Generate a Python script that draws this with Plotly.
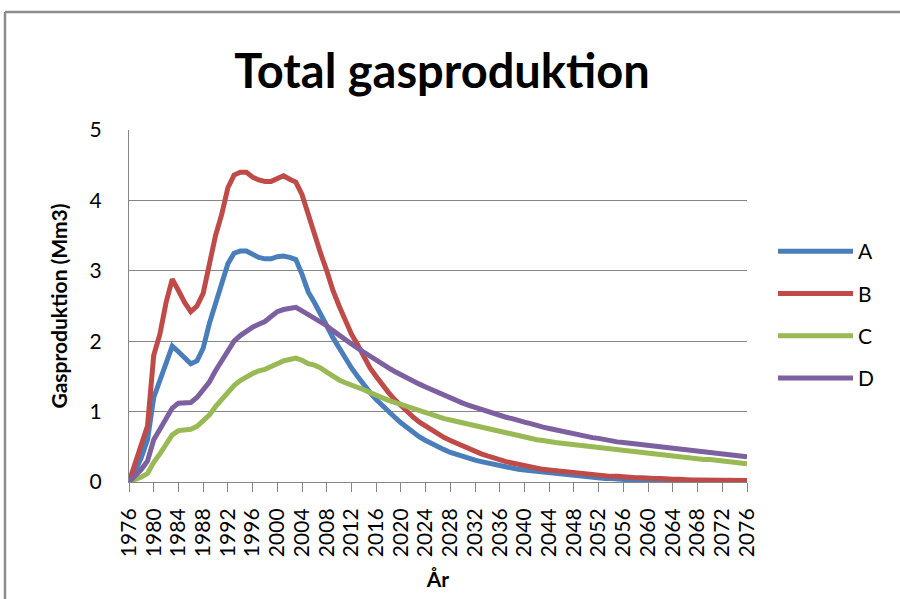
import plotly.graph_objects as go

years = list(range(1976, 2077))

series_a = [
    0.00, 0.15, 0.35, 0.60, 1.20, 1.45, 1.70, 1.93, 1.85, 1.76,
    1.68, 1.72, 1.90, 2.25, 2.55, 2.80, 3.10, 3.25, 3.28, 3.28,
    3.24, 3.19, 3.17, 3.17, 3.20, 3.21, 3.19, 3.16, 2.95, 2.70,
    2.55, 2.40, 2.22, 2.05, 1.90, 1.75, 1.62, 1.50, 1.38, 1.27,
    1.17, 1.08, 1.00, 0.92, 0.84, 0.77, 0.70, 0.64, 0.59, 0.54,
    0.50, 0.46, 0.42, 0.39, 0.36, 0.33, 0.31, 0.29, 0.27, 0.25,
    0.23, 0.21, 0.20, 0.18, 0.17, 0.16, 0.15, 0.14, 0.13, 0.12,
    0.11, 0.10, 0.09, 0.08, 0.07, 0.07, 0.06, 0.05, 0.05, 0.04,
    0.04, 0.03, 0.03, 0.02, 0.02, 0.02, 0.01, 0.01, 0.01, 0.01,
    0.01, 0.00, 0.00, 0.00, 0.00, 0.00, 0.00, 0.00, 0.00, 0.00,
    0.00,
]

series_b = [
    0.00, 0.25, 0.50, 0.80, 1.80, 2.10, 2.55, 2.88, 2.72, 2.55,
    2.42, 2.50, 2.68, 3.10, 3.50, 3.80, 4.18, 4.36, 4.40, 4.40,
    4.33, 4.29, 4.27, 4.27, 4.31, 4.35, 4.30, 4.26, 4.08, 3.80,
    3.50, 3.25, 3.00, 2.72, 2.50, 2.28, 2.10, 1.95, 1.78, 1.62,
    1.50, 1.38, 1.27, 1.17, 1.08, 1.00, 0.92, 0.85, 0.79, 0.73,
    0.68, 0.63, 0.59, 0.55, 0.51, 0.47, 0.43, 0.40, 0.37, 0.34,
    0.31, 0.29, 0.27, 0.25, 0.23, 0.21, 0.20, 0.18, 0.17, 0.16,
    0.15, 0.14, 0.13, 0.12, 0.11, 0.10, 0.10, 0.09, 0.08, 0.08,
    0.07, 0.07, 0.06, 0.06, 0.05, 0.05, 0.05, 0.04, 0.04, 0.04,
    0.03, 0.03, 0.03, 0.03, 0.03, 0.02, 0.02, 0.02, 0.02, 0.02,
    0.02,
]

series_c = [
    0.00, 0.03, 0.07, 0.12, 0.28, 0.40, 0.55, 0.67, 0.73, 0.74,
    0.75, 0.79, 0.86, 0.95, 1.07, 1.17, 1.27, 1.37, 1.44, 1.50,
    1.54, 1.58, 1.60, 1.64, 1.69, 1.72, 1.74, 1.76, 1.73, 1.68,
    1.66, 1.62, 1.56, 1.50, 1.45, 1.41, 1.38, 1.34, 1.31, 1.27,
    1.23, 1.19, 1.16, 1.13, 1.10, 1.07, 1.04, 1.01, 0.99, 0.96,
    0.93, 0.90, 0.88, 0.86, 0.83, 0.81, 0.79, 0.77, 0.75, 0.73,
    0.71, 0.69, 0.67, 0.65, 0.63, 0.62, 0.60, 0.59, 0.57, 0.56,
    0.55, 0.54, 0.52, 0.51, 0.50, 0.49, 0.48, 0.47, 0.46, 0.45,
    0.44, 0.43, 0.42, 0.41, 0.40, 0.39, 0.38, 0.37, 0.37, 0.36,
    0.35, 0.34, 0.33, 0.32, 0.32, 0.31, 0.30, 0.29, 0.28, 0.27,
    0.26,
]

series_d = [
    0.00, 0.08, 0.18, 0.30, 0.60, 0.75, 0.90, 1.05, 1.12, 1.12,
    1.13, 1.20, 1.30, 1.42, 1.58, 1.72, 1.85, 2.00, 2.08, 2.15,
    2.20, 2.24, 2.28, 2.35, 2.42, 2.45, 2.47, 2.48, 2.43, 2.38,
    2.33, 2.28, 2.22, 2.15, 2.08, 2.02, 1.96, 1.90, 1.84, 1.78,
    1.72, 1.67, 1.62, 1.57, 1.52, 1.48, 1.43, 1.39, 1.35, 1.31,
    1.27, 1.23, 1.19, 1.15, 1.12, 1.09, 1.06, 1.03, 1.00, 0.97,
    0.95, 0.92, 0.90, 0.87, 0.85, 0.83, 0.80, 0.78, 0.76, 0.74,
    0.72, 0.70, 0.68, 0.66, 0.65, 0.63, 0.62, 0.60, 0.59, 0.57,
    0.56, 0.55, 0.53, 0.52, 0.51, 0.50, 0.49, 0.48, 0.47, 0.46,
    0.45, 0.44, 0.43, 0.42, 0.41, 0.40, 0.39, 0.38, 0.38, 0.37,
    0.36,
]

series = [
    ("A", series_a, "#4a7ebb"),
    ("B", series_b, "#be4b48"),
    ("C", series_c, "#98b954"),
    ("D", series_d, "#7d60a0"),
]

tick_years = list(range(1976, 2077, 4))
tick_labels = [str(y) for y in tick_years]

FONT = "Lato"

# plot area in pixels
W, H = 900, 599
L, R, T, B = 129, 153, 130, 117
PW, PH = W - L - R, H - T - B

fig = go.Figure()
for name, vals, color in series:
    fig.add_trace(go.Scatter(
        x=years, y=vals, name=name, mode="lines",
        line=dict(color=color, width=5),
        legendgroup=name,
    ))

fig.update_layout(
    width=W, height=H,
    margin=dict(l=L, r=R, t=T, b=B),
    paper_bgcolor="white",
    plot_bgcolor="white",
    title=dict(
        text="<b>Total gasproduktion</b>",
        x=442 / W, xanchor="center",
        y=1 - 72 / H, yanchor="middle",
        font=dict(family=FONT, size=47, color="black"),
    ),
    font=dict(family=FONT, color="black"),
    legend=dict(
        x=(773 - L) / PW, xanchor="left",
        y=(H - B - 315) / PH, yanchor="middle",
        font=dict(family=FONT, size=21, color="black"),
        tracegroupgap=12,
        itemwidth=75,
        bgcolor="rgba(0,0,0,0)",
    ),
    showlegend=True,
)

fig.update_xaxes(
    range=[1976, 2076],
    tickmode="array", tickvals=tick_years, ticktext=tick_labels,
    tickangle=-90,
    tickfont=dict(family=FONT, size=21, color="black"),
    ticks="outside", ticklen=9, tickcolor="#868686",
    ticklabelstandoff=8,
    showline=True, linecolor="#868686", linewidth=1,
    showgrid=False, zeroline=False,
    title=dict(text="<b>År</b>", font=dict(family=FONT, size=21), standoff=16),
)
fig.update_yaxes(
    range=[0, 5], dtick=1,
    tickfont=dict(family=FONT, size=21, color="black"),
    ticks="",
    ticklabelstandoff=22,
    showline=True, linecolor="#868686", linewidth=1,
    showgrid=True, gridcolor="#868686", gridwidth=1,
    zeroline=False,
    title=dict(text="<b>Gasproduktion (Mm3)</b>", font=dict(family=FONT, size=21), standoff=16),
)

# chart frame along the top and left edges
fx0 = (5 - L) / PW
fx1 = (W - L) / PW
fy_top = (H - B - 12) / PH
fy_bot = (H - B - H) / PH
fig.add_shape(type="line", xref="paper", yref="paper",
              x0=fx0, x1=fx1, y0=fy_top, y1=fy_top,
              line=dict(color="#8c8c8c", width=2.5))
fig.add_shape(type="line", xref="paper", yref="paper",
              x0=fx0, x1=fx0, y0=fy_top, y1=fy_bot,
              line=dict(color="#8c8c8c", width=2.5))

fig.write_html("out.html")
